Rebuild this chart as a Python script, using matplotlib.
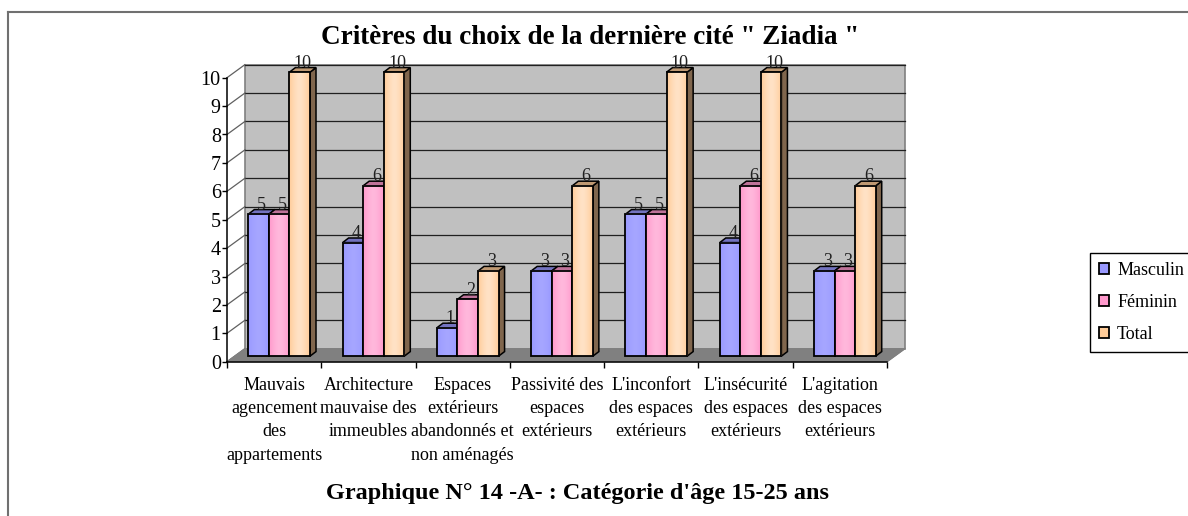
import numpy as np
import matplotlib.pyplot as plt
from matplotlib.patches import Polygon, Rectangle, Patch
from matplotlib.lines import Line2D
from matplotlib.colors import to_rgb

categories = ["Mauvais\nagencement\ndes\nappartements",
              "Architecture\nmauvaise des\nimmeubles",
              "Espaces\nextérieurs\nabandonnés et\nnon aménagés",
              "Passivité des\nespaces\nextérieurs",
              "L'inconfort\ndes espaces\nextérieurs",
              "L'insécurité\ndes espaces\nextérieurs",
              "L'agitation\ndes espaces\nextérieurs"]
series_names = ["Masculin", "Féminin", "Total"]
masculin = [5, 4, 1, 3, 5, 4, 3]
feminin = [5, 6, 2, 3, 5, 6, 3]
total = [10, 10, 3, 6, 10, 10, 6]
y_ticks = list(range(0, 11))

colors = ["#9999FF", "#FF99CC", "#FFCC99"]
centers_light = ["#A6A6FF", "#FFB8DC", "#FFE2C6"]

FONT = "Liberation Serif"
plt.rcParams["font.family"] = [FONT, "DejaVu Serif"]

fig = plt.figure(figsize=(11.88, 5.16), dpi=100)
ax = fig.add_axes([227 / 1188, 1 - 361.7 / 516, 660 / 1188, 284 / 516])

n = len(categories)
# 3d look: wall depth and bar offsets, in data units
DX, DY = 0.19, 0.46
SX, SY = 0.053, 0.194
BW = 0.218
BDX, BDY = 0.064, 0.162


def shade(c, f):
    r, g, b = to_rgb(c)
    return (r * f, g * f, b * f)


# back wall with gridlines
ax.add_patch(Polygon([(DX, DY), (n + DX, DY), (n + DX, 10 + DY), (DX, 10 + DY)],
                     closed=True, facecolor="#C0C0C0", edgecolor="#808080",
                     lw=1.2, zorder=0, clip_on=False))
for k in y_ticks[1:]:
    ax.plot([DX, n + DX], [k + DY, k + DY], color="#202020", lw=0.9,
            zorder=1, clip_on=False)
# side wall lines
for k in y_ticks:
    ax.plot([0, DX], [k, k + DY], color="#606060", lw=0.9, zorder=1,
            clip_on=False)
# floor
ax.add_patch(Polygon([(0, 0), (n, 0), (n + DX, DY), (DX, DY)], closed=True,
                     facecolor="#808080", edgecolor="#808080", lw=0.8,
                     zorder=1, clip_on=False))

grad = np.linspace(-1, 1, 40)
weight = 1 - np.abs(grad) ** 1.5

for i in range(n):
    gc = i + 0.5 + SX
    for j, vals in enumerate([masculin, feminin, total]):
        v = vals[i]
        x0 = gc + (j - 1.5) * BW
        x1 = x0 + BW
        y0 = SY
        y1 = v + SY
        z = 3 + i * 3 + j
        # side and top faces
        ax.add_patch(Polygon([(x1, y0), (x1 + BDX, y0 + BDY),
                              (x1 + BDX, y1 + BDY), (x1, y1)], closed=True,
                             facecolor=shade(colors[j], 0.5), edgecolor="black",
                             lw=1.1, zorder=z, clip_on=False))
        ax.add_patch(Polygon([(x0, y1), (x0 + BDX, y1 + BDY),
                              (x1 + BDX, y1 + BDY), (x1, y1)], closed=True,
                             facecolor=shade(colors[j], 0.75), edgecolor="black",
                             lw=1.1, zorder=z, clip_on=False))
        # front face with a light centre
        c0 = np.array(to_rgb(colors[j]))
        c1 = np.array(to_rgb(centers_light[j]))
        img = c0[None, :] + weight[:, None] * (c1 - c0)[None, :]
        ax.imshow(img[None, :, :], extent=(x0, x1, y0, y1), aspect="auto",
                  zorder=z, clip_on=False, interpolation="bilinear")
        ax.add_patch(Rectangle((x0, y0), BW, v, fill=False, edgecolor="black",
                               lw=1.3, zorder=z + 0.5, clip_on=False))
        ax.text(x0 + BW / 2 + BDX / 2, y1 + BDY, str(v), ha="center",
                va="baseline", fontsize=13, color="#202020", zorder=40,
                clip_on=False)

# floor right edge
ax.plot([n, n + DX], [0, DY], color="#808080", lw=1, clip_on=False, zorder=2)

ax.set_xlim(0, n)
ax.set_ylim(0, 10)
for s in ["top", "right"]:
    ax.spines[s].set_visible(False)
for s in ["left", "bottom"]:
    ax.spines[s].set_linewidth(1.1)
    ax.spines[s].set_zorder(50)
ax.patch.set_visible(False)

ax.set_yticks(y_ticks)
ax.set_yticklabels([str(t) for t in y_ticks], fontsize=14.5)
ax.tick_params(axis="y", direction="out", length=3.5, width=1, pad=1)
ax.set_xticks(np.arange(n + 1))
ax.set_xticklabels([])
ax.tick_params(axis="x", which="major", direction="out", length=4, width=1)
ax.set_xticks(np.arange(n) + 0.5, minor=True)
ax.set_xticklabels(categories, minor=True, fontsize=13, linespacing=1.48)
ax.tick_params(axis="x", which="minor", length=0, pad=11)

fig.text(590 / 1188, 1 - 37 / 516, 'Critères du choix de la dernière cité " Ziadia "',
         ha="center", va="center", fontsize=19.5, fontweight="bold")
fig.text(578 / 1188, 1 - 493 / 516, "Graphique N° 14 -A- : Catégorie d'âge 15-25 ans",
         ha="center", va="center", fontsize=17.5, fontweight="bold")

handles = [Patch(facecolor=c, edgecolor="black", lw=1.3) for c in colors]
leg = fig.legend(handles, series_names, loc="upper left",
                 bbox_to_anchor=(1090 / 1188, 1 - 253 / 516),
                 fontsize=13, frameon=True, fancybox=False, edgecolor="black",
                 handlelength=0.55, handleheight=0.55, handletextpad=0.45,
                 labelspacing=0.82, borderpad=0.5, borderaxespad=0,
                 framealpha=1)
leg.get_frame().set_linewidth(1)

# outer frame
fig.add_artist(Line2D([7.5 / 1188, 7.5 / 1188], [0, 1 - 11.5 / 516],
                      color="#707070", lw=1.5))
fig.add_artist(Line2D([7.5 / 1188, 1], [1 - 11.5 / 516, 1 - 11.5 / 516],
                      color="#707070", lw=1.5))

fig.savefig("out.png", dpi=100)
